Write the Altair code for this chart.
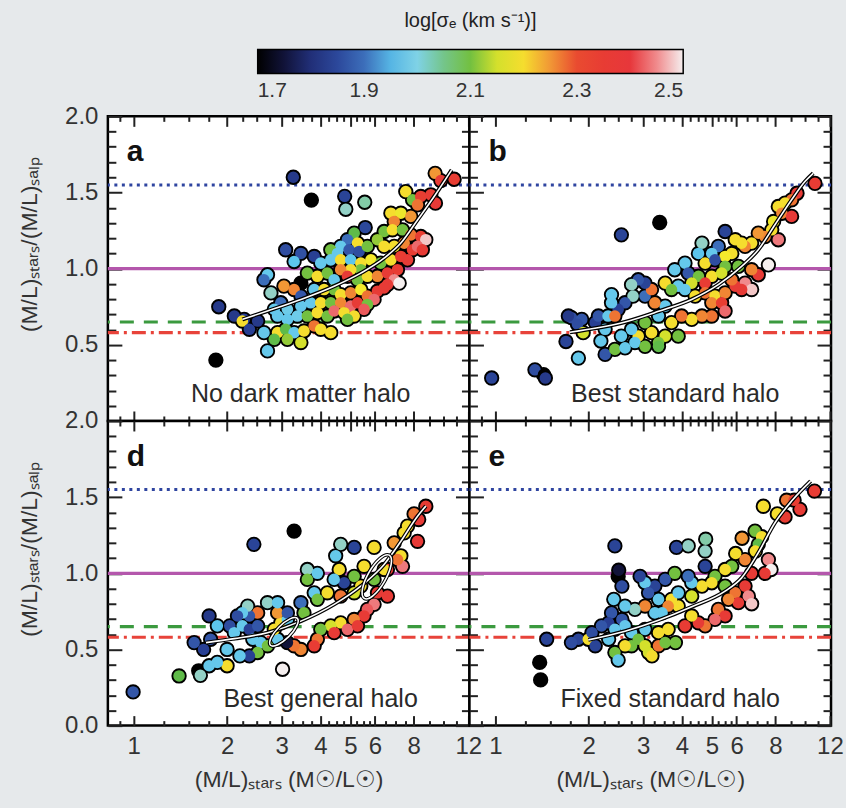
import altair as alt
import pandas as pd

# ---------------- data ----------------
# (M/L)stars, (M/L)stars/(M/L)Salp, log sigma_e
PANEL_A = [
    (1.84, 0.40, 1.70), (1.88, 0.75, 1.82), (3.27, 1.60, 1.82), (3.74, 1.45, 1.70),
    (4.79, 1.475, 1.84), (4.83, 1.39, 2.03), (5.56, 1.436, 2.04), (5.58, 1.27, 1.85),
    (9.38, 1.626, 2.25), (9.78, 1.578, 2.36), (10.8, 1.587, 2.34),
    (7.54, 1.506, 2.20), (7.93, 1.452, 2.10), (8.43, 1.474, 2.33), (9.08, 1.485, 2.35),
    (9.40, 1.43, 2.37), (8.23, 1.419, 2.27),
    (6.75, 1.364, 2.20), (7.27, 1.364, 2.18), (7.83, 1.343, 2.25), (6.92, 1.31, 2.26),
    (6.42, 1.244, 2.10), (6.83, 1.255, 2.20), (7.36, 1.255, 2.10), (7.83, 1.222, 2.27),
    (8.43, 1.211, 2.33), (8.75, 1.19, 2.48), (5.14, 1.233, 2.08), (4.89, 1.19, 1.90),
    (4.65, 1.146, 1.97), (5.27, 1.168, 2.20),
    (4.32, 1.124, 2.10), (4.54, 1.10, 1.97), (4.95, 1.124, 1.88), (5.33, 1.113, 1.86),
    (5.67, 1.146, 2.10), (6.11, 1.19, 2.12), (6.42, 1.146, 2.20), (6.92, 1.146, 2.20),
    (7.45, 1.168, 2.26), (7.93, 1.124, 2.34), (8.23, 1.146, 2.43), (8.53, 1.124, 2.36),
    (3.09, 1.124, 1.86), (3.46, 1.10, 1.87), (3.82, 1.08, 1.83), (3.29, 1.047, 1.96),
    (4.01, 1.036, 1.97),
    (4.32, 1.058, 1.97), (4.65, 1.058, 2.20), (5.01, 1.058, 1.96), (5.40, 1.036, 2.20),
    (5.82, 1.058, 2.19), (6.26, 1.036, 2.10), (6.75, 1.058, 2.20), (7.27, 1.08, 2.34),
    (7.64, 1.058, 2.36), (7.09, 0.993, 2.35), (5.40, 0.993, 2.10), (5.01, 0.993, 2.20),
    (4.65, 0.993, 2.26),
    (2.70, 0.96, 1.97), (2.63, 0.927, 1.90), (3.46, 0.905, 1.70), (3.63, 0.971, 2.10),
    (3.91, 0.95, 2.20), (4.21, 0.971, 2.10), (4.43, 0.927, 1.97), (4.89, 0.95, 2.36),
    (5.27, 0.927, 2.10), (5.67, 0.95, 2.20), (6.11, 0.95, 2.26), (6.58, 0.971, 2.36),
    (6.92, 0.927, 2.45), (7.18, 0.905, 2.50), (6.58, 0.895, 2.36),
    (2.77, 0.841, 2.03), (3.05, 0.885, 2.25), (3.29, 0.863, 2.26), (3.46, 0.82, 1.88),
    (3.82, 0.863, 1.97), (4.11, 0.863, 2.20), (4.43, 0.863, 2.10), (4.65, 0.83, 2.20),
    (5.01, 0.841, 2.26), (5.40, 0.863, 2.19), (5.67, 0.82, 2.27), (6.11, 0.852, 2.36),
    (6.42, 0.874, 2.36), (5.96, 0.798, 2.43),
    (2.98, 0.776, 1.90), (2.84, 0.733, 1.97), (3.13, 0.733, 1.98), (3.46, 0.754, 1.97),
    (3.72, 0.776, 1.97), (4.01, 0.776, 2.20), (4.32, 0.776, 2.10), (4.65, 0.776, 2.26),
    (5.01, 0.754, 2.43), (5.27, 0.776, 2.36), (5.67, 0.765, 2.10), (5.53, 0.733, 2.42),
    (2.11, 0.689, 1.82), (2.27, 0.667, 1.83), (2.24, 0.656, 2.20), (2.51, 0.656, 1.82),
    (2.91, 0.689, 1.97), (3.13, 0.667, 1.97), (3.37, 0.689, 1.98), (3.63, 0.689, 2.10),
    (3.91, 0.711, 2.20), (4.21, 0.689, 2.10), (4.43, 0.722, 2.43), (4.77, 0.711, 2.20),
    (5.14, 0.689, 2.20), (4.89, 0.667, 2.10),
    (2.36, 0.602, 1.83), (2.63, 0.580, 1.97), (2.91, 0.580, 2.20), (3.09, 0.602, 2.08),
    (3.29, 0.58, 1.97), (3.54, 0.591, 2.20), (3.82, 0.624, 2.27), (4.01, 0.602, 2.20),
    (4.32, 0.58, 2.20),
    (2.70, 0.46, 1.97), (2.84, 0.536, 2.08), (3.13, 0.536, 2.12), (3.46, 0.515, 2.15),
]

PANEL_B = [
    (0.973, 0.282, 1.84), (1.342, 0.336, 1.86), (1.43, 0.304, 1.70), (1.45, 0.282, 1.82),
    (2.55, 1.222, 1.84), (3.39, 1.303, 1.70),
    (1.69, 0.522, 1.84), (1.853, 0.413, 1.97), (1.76, 0.678, 1.86), (1.90, 0.667, 1.88),
    (1.72, 0.689, 1.82), (1.84, 0.635, 1.86), (1.92, 0.58, 2.15), (2.10, 0.646, 1.83),
    (2.15, 0.689, 1.88),
    (10.74, 1.56, 2.35), (9.4, 1.495, 2.36), (9.03, 1.452, 2.27), (8.6, 1.43, 2.20),
    (8.18, 1.408, 2.20), (8.4, 1.364, 2.26), (9.03, 1.343, 2.37), (7.9, 1.31, 2.18),
    (7.79, 1.255, 2.20), (8.18, 1.19, 2.44), (7.41, 1.211, 2.26), (7.05, 1.233, 2.25),
    (6.71, 1.168, 2.20), (6.39, 1.146, 2.26), (7.6, 1.025, 2.50), (7.05, 0.96, 2.36),
    (6.71, 0.993, 2.26), (6.39, 0.905, 2.45), (6.71, 0.863, 2.48), (6.23, 0.863, 2.36),
    (5.94, 0.885, 2.36),
    (5.51, 1.244, 1.84), (5.24, 1.146, 1.90), (5.94, 1.19, 2.20), (6.23, 1.168, 2.20),
    (5.79, 1.10, 2.20), (5.51, 1.08, 2.19), (4.99, 1.10, 1.97), (4.64, 1.168, 2.03),
    (4.52, 1.10, 1.96), (4.75, 1.036, 2.20), (5.11, 1.058, 1.86), (5.51, 1.015, 2.10),
    (6.08, 1.015, 2.10),
    (4.09, 1.036, 1.97), (3.79, 0.993, 1.97), (4.19, 0.971, 1.88), (4.52, 0.95, 2.10),
    (4.99, 0.95, 2.20), (5.37, 0.971, 2.15), (5.79, 0.927, 2.27), (4.75, 0.905, 2.35),
    (4.30, 0.905, 2.15), (3.89, 0.885, 1.97), (3.53, 0.905, 2.20), (3.70, 0.863, 2.10),
    (4.09, 0.863, 1.97), (4.41, 0.82, 2.20), (4.75, 0.841, 2.27), (5.11, 0.82, 2.20),
    (5.51, 0.841, 2.26), (4.99, 0.776, 2.26), (5.37, 0.776, 2.33), (5.51, 0.722, 2.43),
    (4.99, 0.689, 2.27), (4.64, 0.689, 2.26), (4.30, 0.667, 2.20), (3.99, 0.689, 2.27),
    (3.70, 0.646, 2.20), (3.89, 0.557, 2.10), (3.53, 0.557, 2.15), (3.36, 0.515, 2.10),
    (3.19, 0.58, 2.20), (2.89, 0.557, 2.20), (2.75, 0.602, 1.97), (3.04, 0.646, 2.10),
    (3.36, 0.689, 1.97), (3.53, 0.754, 1.97), (3.27, 0.776, 2.26), (3.04, 0.82, 1.90),
    (3.19, 0.863, 2.27), (3.04, 0.905, 1.84), (2.89, 0.927, 1.88), (2.75, 0.895, 2.03),
    (2.78, 0.82, 2.03), (2.62, 0.776, 1.88), (2.49, 0.733, 1.83), (2.37, 0.776, 1.97),
    (2.37, 0.83, 1.97), (2.31, 0.689, 1.97), (2.43, 0.689, 2.27), (2.26, 0.602, 1.97),
    (2.19, 0.525, 1.97), (2.26, 0.437, 1.88), (2.43, 0.47, 2.10), (2.62, 0.48, 1.97),
    (2.82, 0.515, 1.97), (3.04, 0.49, 2.10), (3.36, 0.49, 2.08), (2.55, 0.557, 1.97),
]

PANEL_D = [
    (0.995, 0.221, 1.88), (1.40, 0.326, 2.08), (1.62, 0.36, 1.70), (1.64, 0.33, 2.03),
    (3.02, 0.37, 2.50), (2.44, 1.19, 1.84), (3.29, 1.277, 1.70),
    (8.75, 1.44, 2.35), (8.02, 1.39, 2.27), (8.3, 1.353, 2.36), (7.64, 1.31, 2.20),
    (7.45, 1.265, 2.20), (8.23, 1.21, 2.37), (6.92, 1.20, 2.25), (7.27, 1.115, 2.20),
    (7.36, 1.046, 2.44), (7.09, 1.09, 2.27), (6.58, 1.025, 2.35),
    (4.65, 1.19, 2.03), (5.14, 1.17, 1.84), (4.48, 1.115, 1.97), (4.60, 1.025, 2.20),
    (5.96, 1.17, 2.20), (5.53, 1.046, 2.20), (5.14, 0.98, 2.10), (4.77, 0.938, 1.84),
    (4.43, 0.96, 1.97), (3.63, 1.025, 2.03), (3.91, 1.0, 1.97), (3.63, 0.96, 2.10),
    (3.82, 0.872, 1.97), (3.46, 0.807, 1.90), (3.54, 0.74, 2.10), (3.91, 0.829, 2.10),
    (4.21, 0.872, 2.20), (4.65, 0.85, 2.27), (5.14, 0.872, 2.15), (5.40, 0.916, 2.20),
    (5.96, 0.96, 2.10), (6.42, 1.025, 2.20), (6.11, 0.872, 2.36), (6.58, 0.85, 2.36),
    (5.96, 0.796, 2.44), (5.67, 0.763, 2.42), (5.53, 0.72, 2.36), (5.14, 0.697, 2.26),
    (4.65, 0.675, 2.20), (4.32, 0.655, 2.15), (4.01, 0.632, 2.10), (4.43, 0.61, 2.36),
    (4.89, 0.632, 2.43), (5.27, 0.655, 2.36), (3.91, 0.567, 2.27), (3.82, 0.524, 2.35),
    (3.46, 0.50, 2.26), (3.29, 0.524, 2.27), (3.13, 0.545, 1.75), (2.91, 0.567, 1.97),
    (2.84, 0.632, 2.20), (2.98, 0.675, 2.20), (3.13, 0.697, 1.97), (2.91, 0.74, 2.25),
    (3.13, 0.74, 1.88), (2.70, 0.807, 2.03), (2.91, 0.807, 1.97), (2.51, 0.74, 2.27),
    (2.36, 0.72, 1.88), (2.33, 0.785, 2.03), (2.24, 0.74, 1.97), (2.16, 0.72, 1.86),
    (2.04, 0.655, 1.86), (1.86, 0.655, 1.96), (1.75, 0.72, 1.82), (2.11, 0.61, 1.97),
    (2.24, 0.655, 1.97), (2.36, 0.632, 1.83), (2.51, 0.655, 1.88), (2.42, 0.567, 1.97),
    (2.57, 0.545, 1.97), (2.70, 0.524, 2.10), (2.51, 0.48, 2.10), (2.36, 0.458, 1.83),
    (2.20, 0.458, 1.97), (2.0, 0.393, 2.20), (1.86, 0.415, 1.97), (1.75, 0.393, 1.97),
    (2.0, 0.50, 1.97), (1.566, 0.545, 1.88), (1.68, 0.50, 1.83), (1.77, 0.567, 1.88),
]

PANEL_E = [
    (1.464, 0.567, 1.84), (1.39, 0.415, 1.70), (1.40, 0.30, 1.70), (2.43, 1.18, 1.84),
    (3.84, 1.17, 1.84), (4.19, 1.18, 2.03), (4.77, 1.224, 2.04), (4.75, 1.146, 2.03),
    (10.7, 1.54, 2.35), (9.61, 1.42, 2.36), (8.7, 1.48, 2.27), (9.2, 1.48, 2.34),
    (7.32, 1.44, 2.20), (8.12, 1.39, 2.20), (8.6, 1.37, 2.34),
    (6.88, 1.277, 2.10), (6.25, 1.23, 2.25), (7.23, 1.24, 2.20), (7.05, 1.19, 2.08),
    (6.9, 1.146, 2.20), (7.6, 1.09, 2.45), (7.75, 1.025, 2.50), (7.41, 1.0, 2.36),
    (6.7, 1.0, 2.36), (5.96, 1.13, 2.20), (5.79, 1.046, 2.10), (6.39, 1.09, 2.26),
    (5.51, 1.025, 2.20), (5.11, 0.98, 2.10), (4.75, 1.046, 1.84), (4.99, 0.938, 2.20),
    (5.51, 0.916, 2.10), (5.94, 0.872, 2.27), (6.39, 0.916, 2.36), (6.55, 0.85, 2.45),
    (6.71, 0.80, 2.48), (6.08, 0.807, 2.36), (5.65, 0.829, 2.26), (5.24, 0.763, 2.27),
    (5.51, 0.72, 2.36), (5.11, 0.697, 2.43), (4.75, 0.655, 2.27), (4.52, 0.675, 2.36),
    (4.09, 0.655, 2.35), (4.30, 0.72, 2.20), (3.89, 0.785, 2.20), (3.70, 0.829, 2.20),
    (3.89, 0.872, 1.97), (4.30, 0.85, 2.15), (4.64, 0.916, 2.20), (4.30, 0.938, 1.97),
    (4.19, 0.98, 1.90), (3.79, 1.0, 2.10), (3.53, 0.96, 1.88), (3.27, 0.916, 1.84),
    (3.04, 0.938, 1.97), (2.93, 0.98, 1.84), (3.12, 0.872, 1.88), (3.36, 0.829, 1.97),
    (3.61, 0.785, 2.26), (3.45, 0.74, 1.97), (3.27, 0.74, 1.97), (3.04, 0.785, 2.26),
    (2.82, 0.763, 2.03), (2.62, 0.785, 1.97), (2.56, 0.697, 1.88), (2.41, 0.829, 1.97),
    (2.37, 0.74, 1.88), (2.32, 0.675, 1.83), (2.49, 0.98, 1.70), (2.56, 0.916, 1.86),
    (2.43, 0.632, 1.97), (2.62, 0.655, 1.97), (2.75, 0.61, 1.97), (2.89, 0.567, 2.10),
    (3.04, 0.524, 2.15), (3.12, 0.48, 2.15), (3.2, 0.458, 2.20), (3.36, 0.524, 2.27),
    (3.53, 0.545, 2.10), (3.81, 0.545, 2.10), (3.61, 0.632, 2.20), (3.36, 0.61, 2.20),
    (3.04, 0.632, 1.97), (2.75, 0.524, 2.10), (2.62, 0.524, 2.20), (2.43, 0.48, 2.10),
    (2.49, 0.43, 1.97), (2.32, 0.567, 1.97), (2.2, 0.655, 1.88), (1.853, 0.567, 1.84),
    (1.76, 0.545, 1.86), (1.995, 0.567, 2.20), (2.10, 0.524, 1.84), (2.05, 0.61, 1.86),
    (2.5, 1.02, 1.75),
]

CURVE_A = [(2.24, 0.667), (2.70, 0.722), (3.46, 0.798), (4.43, 0.885), (5.40, 0.971),
           (6.42, 1.069), (7.27, 1.168), (8.23, 1.32), (9.31, 1.474), (10.6, 1.648)]
CURVE_B = [(1.74, 0.583), (2.62, 0.65), (3.36, 0.72), (4.30, 0.798), (5.24, 0.895),
           (6.23, 1.015), (7.05, 1.124), (7.98, 1.288), (9.03, 1.452), (9.97, 1.572), (10.6, 1.626)]
CURVE_D = [(1.71, 0.545), (2.11, 0.571), (2.70, 0.61), (3.46, 0.686), (4.43, 0.796),
           (5.40, 0.916), (6.42, 1.058), (7.27, 1.21), (8.23, 1.375), (8.75, 1.441)]
CURVE_E = [(1.995, 0.563), (2.62, 0.62), (3.36, 0.692), (4.30, 0.78), (5.51, 0.883),
           (6.23, 0.97), (7.05, 1.135), (7.98, 1.332), (9.03, 1.474), (10.4, 1.605)]

ELLIPSE_CENTERS_D = [(3.05, 0.616), (6.08, 0.977)]

REF_BLUE, REF_MAGENTA, REF_GREEN, REF_RED = 1.55, 1.0, 0.65, 0.58

X_MAJOR = [1, 2, 3, 4, 5, 6, 8, 12]
X_MINOR = [0.9, 1.25, 1.5, 1.75, 2.25, 2.5, 2.75, 3.25, 3.5, 3.75, 4.25, 4.5, 4.75,
           5.25, 5.5, 5.75, 6.5, 7, 7.5, 9, 10, 11]
Y_MAJOR = [0, 0.5, 1.0, 1.5, 2.0]
Y_MINOR = [0.1, 0.2, 0.3, 0.4, 0.6, 0.7, 0.8, 0.9, 1.1, 1.2, 1.3, 1.4, 1.6, 1.7, 1.8, 1.9]
CBAR_LABELS = [1.7, 1.9, 2.1, 2.3, 2.5]

CMAP_STOPS = [1.70, 1.74, 1.78, 1.83, 1.88, 1.92, 1.96, 2.00, 2.03, 2.07, 2.11,
              2.15, 2.19, 2.24, 2.28, 2.31, 2.40, 2.45, 2.50]
CMAP_COLORS = ["#000000", "#0d0d2a", "#1c2466", "#283f93", "#3356a8", "#4586cc",
               "#5cc5ec", "#7fd2e6", "#93d1c6", "#55b84e", "#7dc23c", "#d4e02c",
               "#f5ea2c", "#f3a936", "#ec6232", "#e8402f", "#e7373b", "#f08a8c", "#f5efef"]

PANEL_LETTERS = ["a", "b", "d", "e"]
PANEL_CAPTIONS = ["No dark matter halo", "Best standard halo",
                  "Best general halo", "Fixed standard halo"]

X_TITLE = "(M/L)ₛₜₐᵣₛ (M☉/L☉)"
Y_TITLE = "(M/L)ₛₜₐᵣₛ/(M/L)ₛₐₗₚ"
C_TITLE = "log[σₑ (km s⁻¹)]"

# ---------------- styling ----------------
FONT = "Liberation Sans"
W, H = 362, 305
XSCALE = alt.Scale(type="log", domain=[0.825, 12.1], nice=False)
YSCALE = alt.Scale(domain=[0, 2], nice=False, zero=False)
CSCALE = alt.Scale(domain=CMAP_STOPS, range=CMAP_COLORS, clamp=True, interpolate="rgb")
CAPTION_X = [193, 206, 213, 201]

LEGEND = alt.Legend(
    title=C_TITLE, orient="none", direction="horizontal", legendX=150, legendY=-105.5,
    gradientLength=426, gradientThickness=24, gradientStrokeColor="black",
    gradientStrokeWidth=1.5, values=CBAR_LABELS, format=".1f",
    labelFont=FONT, labelFontSize=21, labelColor="#333", labelAlign="center", labelOffset=7,
    titleFont=FONT, titleFontSize=20, titleFontWeight="normal", titleColor="#222",
    titleAnchor="middle", titlePadding=18.5, padding=0,
)


def xaxis(orient, major, labels=False, title=None):
    size = 10 if major else 5
    kw = dict(orient=orient, values=X_MAJOR if major else X_MINOR, tickSize=size,
              offset=-size, labels=labels, domain=False, grid=False, title=title,
              format="~g", labelOverlap=False, labelFlush=False, labelPadding=9,
              labelFont=FONT, labelFontSize=24, labelColor="#333")
    if title:
        kw.update(titleFont=FONT, titleFontSize=23, titleFontWeight="normal",
                  titleColor="#333", titleY=64, titleBaseline="middle")
    return alt.Axis(**kw)


def yaxis(orient, major, labels=False, title=None, hide_zero=False):
    size = 14 if major else 8
    kw = dict(orient=orient, values=Y_MAJOR if major else Y_MINOR, tickSize=size,
              offset=-size, labels=labels, domain=False, grid=False, title=title,
              format=".1f", labelPadding=10, labelFont=FONT, labelFontSize=24,
              labelColor="#333", labelFlush=False, labelOverlap=False)
    if hide_zero:
        kw["labelExpr"] = "datum.value == 0 ? '' : format(datum.value, '.1f')"
    if title:
        kw.update(titleFont=FONT, titleFontSize=23, titleFontWeight="normal",
                  titleColor="#333", titleX=-92, titleY=128, titleBaseline="middle")
    return alt.Axis(**kw)


def one_row(**kw):
    return pd.DataFrame({k: [v] for k, v in kw.items()})


def rule(level, color, dash=None, width=3.0):
    kw = dict(color=color, strokeWidth=width)
    if dash:
        kw["strokeDash"] = dash
    return alt.Chart(one_row(y=level)).mark_rule(**kw).encode(
        y=alt.Y("y:Q", scale=YSCALE, axis=None))


def panel(idx, pts, curve, row, col, ellipses=()):
    df = pd.DataFrame(pts, columns=["x", "y", "s"])
    cdf = pd.DataFrame(curve, columns=["x", "y"])
    bottom_labels = row == 1
    left_labels = col == 0

    layers = [
        rule(REF_BLUE, "#2f45a0", [3, 4.5], 3),
        rule(REF_MAGENTA, "#b457ac", None, 3.2),
        rule(REF_GREEN, "#3b9a3f", [14, 10], 3.2),
        rule(REF_RED, "#e8433a", [14, 5, 3, 5], 3.2),
        alt.Chart(df).mark_circle(size=235, color="black", opacity=1).encode(
            x=alt.X("x:Q", scale=XSCALE,
                    axis=xaxis("bottom", True, bottom_labels, X_TITLE if bottom_labels else None)),
            y=alt.Y("y:Q", scale=YSCALE,
                    axis=yaxis("left", True, left_labels, Y_TITLE if left_labels else None,
                               hide_zero=(row == 0))),
        ),
        alt.Chart(df).mark_circle(size=135, opacity=1).encode(
            x=alt.X("x:Q", scale=XSCALE, axis=xaxis("bottom", False)),
            y=alt.Y("y:Q", scale=YSCALE, axis=yaxis("left", False)),
            color=alt.Color("s:Q", scale=CSCALE, legend=LEGEND),
        ),
        alt.Chart(cdf).mark_line(color="black", strokeWidth=4, interpolate="monotone").encode(
            x=alt.X("x:Q", scale=XSCALE, axis=xaxis("top", True)),
            y=alt.Y("y:Q", scale=YSCALE, axis=yaxis("right", True)),
        ),
        alt.Chart(cdf).mark_line(color="white", strokeWidth=1.6, interpolate="monotone").encode(
            x=alt.X("x:Q", scale=XSCALE, axis=xaxis("top", False)),
            y=alt.Y("y:Q", scale=YSCALE, axis=yaxis("right", False)),
        ),
    ]
    ell_styles = [(1450, 45), (2500, 30)]
    ell_path = "M0,-1 A0.36,1 0 1,1 0,1 A0.36,1 0 1,1 0,-1 Z"
    for (ex, ey), (esize, eang) in zip(ellipses, ell_styles):
        edf = one_row(x=ex, y=ey)
        for col_, sw in (("black", 3.6), ("white", 1.6)):
            layers.append(
                alt.Chart(edf).mark_point(shape=ell_path, size=esize, angle=eang,
                                          filled=False, stroke=col_, strokeWidth=sw,
                                          opacity=1).encode(
                    x=alt.X("x:Q", scale=XSCALE, axis=None),
                    y=alt.Y("y:Q", scale=YSCALE, axis=None)))
    layers.append(
        alt.Chart(one_row(t=PANEL_LETTERS[idx])).mark_text(
            font=FONT, fontSize=30, fontWeight="bold", align="left",
            baseline="alphabetic", color="#111").encode(
            x=alt.value(19), y=alt.value(45), text="t:N"))
    layers.append(
        alt.Chart(one_row(t=PANEL_CAPTIONS[idx])).mark_text(
            font=FONT, fontSize=25, align="center", baseline="alphabetic",
            color="#2a2a2a").encode(
            x=alt.value(CAPTION_X[idx]), y=alt.value(286), text="t:N"))

    return alt.layer(*layers).resolve_axis(x="independent", y="independent").properties(
        width=W, height=H)


pa = panel(0, PANEL_A, CURVE_A, 0, 0)
pb = panel(1, PANEL_B, CURVE_B, 0, 1)
pdd = panel(2, PANEL_D, CURVE_D, 1, 0, ELLIPSE_CENTERS_D)
pe = panel(3, PANEL_E, CURVE_E, 1, 1)

chart = alt.concat(pa, pb, pdd, pe, columns=2, spacing=0, bounds="flush").resolve_scale(
    x="independent", y="independent", color="shared"
).properties(
    padding={"left": 17, "top": 10, "right": 1, "bottom": 16},
    background="#e6e9eb",
).configure_view(
    stroke="black", strokeWidth=2.5, fill="white"
).configure_axis(
    tickColor="#222", tickWidth=2
)

chart.save("out.html", embed_options={"renderer": "svg", "actions": False})
